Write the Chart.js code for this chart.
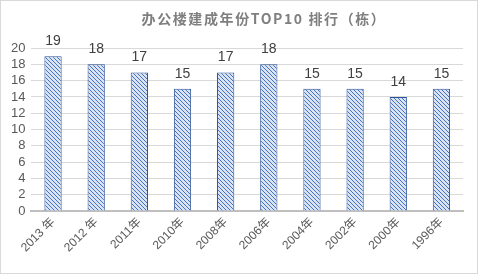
<!DOCTYPE html>
<html>
<head>
<meta charset="utf-8">
<script src="https://cdn.jsdelivr.net/npm/chart.js@4"></script>
<style>
  html, body { margin: 0; padding: 0; background: #fff; }
  #wrap { width: 476px; height: 272px; border: 1px solid #d9d9d9; position: relative; }
</style>
</head>
<body>
<div id="wrap"><canvas id="myChart"></canvas></div>
<script>
var chartTitle = '办公楼建成年份TOP10 排行（栋）';
var years = ['2013 年', '2012 年', '2011年', '2010年', '2008年', '2006年', '2004年', '2002年', '2000年', '1996年'];
var counts = [19, 18, 17, 15, 17, 18, 15, 15, 14, 15];
var yTicks = [0, 2, 4, 6, 8, 10, 12, 14, 16, 18, 20];

// hatch pattern for the bars
function makeHatch() {
    var c = document.createElement('canvas');
    c.width = 4; c.height = 4;
    var g = c.getContext('2d');
    g.fillStyle = '#dae3f3';
    g.fillRect(0, 0, 4, 4);
    g.strokeStyle = '#4472c4';
    g.lineWidth = 1;
    g.beginPath();
    g.moveTo(0, 0); g.lineTo(4, 4);
    g.moveTo(-1, 3); g.lineTo(1, 5);
    g.moveTo(3, -1); g.lineTo(5, 1);
    g.stroke();
    return document.getElementById('myChart').getContext('2d').createPattern(c, 'repeat');
}

// values above bars + spaced-out title
var valueLabels = {
    id: 'valueLabels',
    afterDatasetsDraw: function(chart) {
        var ctx = chart.ctx;
        ctx.save();
        ctx.font = '14px "Liberation Sans", Arial, sans-serif';
        ctx.fillStyle = '#404040';
        ctx.textAlign = 'center';
        ctx.textBaseline = 'bottom';
        chart.getDatasetMeta(0).data.forEach(function(bar, i) {
            ctx.fillText(counts[i], bar.x, bar.y - 8);
        });
        ctx.font = 'bold 14px "Noto Sans CJK SC", sans-serif';
        ctx.fillStyle = '#7f7f7f';
        ctx.letterSpacing = '1.6px';
        ctx.textBaseline = 'middle';
        ctx.fillText(chartTitle, 263, 18);
        ctx.restore();
    }
};

var ctx = document.getElementById('myChart').getContext('2d');
var myChart = new Chart(ctx, {
    type: 'bar',
    data: {
        labels: years,
        datasets: [{
            label: '栋',
            data: counts,
            backgroundColor: makeHatch(),
            borderColor: '#2f5597',
            borderWidth: 1,
            barPercentage: 0.4,
            categoryPercentage: 1
        }]
    },
    options: {
        responsive: true,
        maintainAspectRatio: false,
        animation: false,
        layout: { padding: { left: 4, right: 14, top: 47, bottom: 14 } },
        plugins: {
            legend: { display: false },
            tooltip: { enabled: false },
            title: { display: false }
        },
        scales: {
            x: {
                grid: { display: false, drawTicks: false },
                border: { color: '#bfbfbf', width: 2 },
                ticks: {
                    color: '#595959',
                    font: { size: 12, family: '"Liberation Sans", "Noto Sans CJK SC", sans-serif' },
                    maxRotation: 45,
                    minRotation: 45,
                    padding: 4
                }
            },
            y: {
                min: 0,
                max: 20,
                afterBuildTicks: function(axis) {
                    axis.ticks = yTicks.map(function(v) { return { value: v }; });
                },
                grid: { color: '#d9d9d9', drawTicks: false },
                border: { display: false },
                ticks: {
                    autoSkip: false,
                    color: '#595959',
                    font: { size: 13, family: '"Liberation Sans", Arial, sans-serif' },
                    padding: 6
                }
            }
        }
    },
    plugins: [valueLabels]
});
</script>
</body>
</html>
